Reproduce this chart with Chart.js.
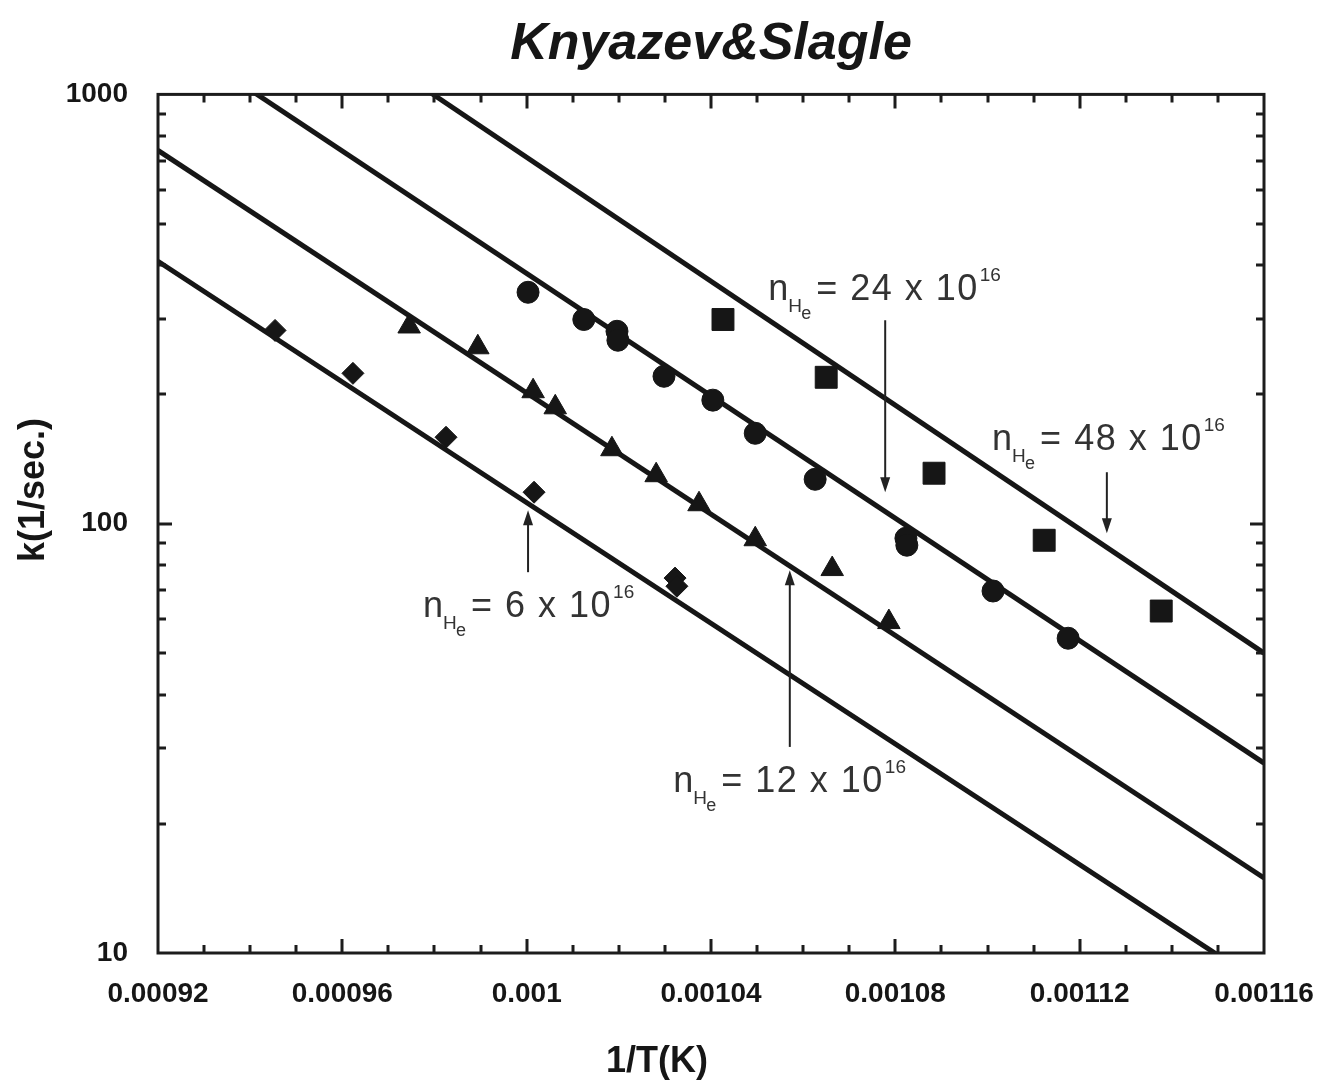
<!DOCTYPE html>
<html>
<head>
<meta charset="utf-8">
<script src="https://cdn.jsdelivr.net/npm/chart.js@4.4.1/dist/chart.umd.min.js"></script>
<style>
  html, body { margin: 0; padding: 0; background: #fff; }
  canvas { display: block; }
</style>
</head>
<body>
<canvas id="c" width="1323" height="1084"></canvas>
<script>
// Axis ticks: x is 1/T (1/K), y is k (1/s) on a log scale
const xTicks = [0.00092, 0.00096, 0.001, 0.00104, 0.00108, 0.00112, 0.00116];
const xTickLabels = ['0.00092', '0.00096', '0.001', '0.00104', '0.00108', '0.00112', '0.00116'];
const yTicks = [10, 100, 1000];
const yTickLabels = ['10', '100', '1000'];

// Arrhenius fits, k at the two ends of the 1/T range
const fitX = [0.00092, 0.00116];
const fitK6 = [408.6, 8.41];
const fitK12 = [740.6, 14.95];
const fitK24 = [1423, 27.7];
const fitK48 = [2697, 49.95];

// Measured rate constants, n_He = 6 x 10^16 (diamonds)
const x6 = [0.0009454, 0.0009623, 0.0009825, 0.0010016, 0.0010322, 0.0010326];
const k6 = [282, 224, 159, 118.4, 74.7, 71.5];

// n_He = 12 x 10^16 (triangles)
const x12 = [0.0009745, 0.0009894, 0.0010014, 0.0010062, 0.0010185, 0.0010281, 0.0010374, 0.0010496, 0.0010663, 0.0010786];
const k12 = [288, 257.6, 203.5, 186.7, 149.1, 129.7, 111, 92, 78.4, 59];

// n_He = 24 x 10^16 (circles)
const x24 = [0.0010003, 0.0010124, 0.0010196, 0.0010198, 0.0010298, 0.0010404, 0.0010496, 0.0010626, 0.0010823, 0.0010825, 0.0011012, 0.0011175];
const k24 = [346, 299, 280.7, 267.5, 220.5, 194, 162.4, 126.9, 92.5, 89.1, 69.7, 54.1];

// n_He = 48 x 10^16 (squares)
const x48 = [0.0010426, 0.001065, 0.0010884, 0.0011123, 0.0011377];
const k48 = [299, 219.3, 131.1, 91.5, 62.6];

// Density callouts: text anchor (left, baseline) and arrow tail -> tip, in data units
const calloutValues = ['6', '12', '24', '48'];
const calloutTextX = [0.0009775, 0.0010318, 0.0010524, 0.001101];
const calloutTextK = [60.6, 23.7, 331.5, 148.3];
const calloutArrowX = [0.0010003, 0.0010571, 0.0010778, 0.0011259];
const calloutTailK = [77.1, 30.2, 297.8, 131.8];
const calloutTipK = [107.5, 77.9, 118.4, 95.0];

const INK = '#161616';
const FONT = '"Liberation Sans", Arial, Helvetica, sans-serif';

const pts = (xs, ks) => xs.map((x, i) => ({ x, y: ks[i] }));

function fitLine(ks) {
  return {
    type: 'scatter', data: pts(fitX, ks), showLine: true,
    borderColor: INK, borderWidth: 5, pointRadius: 0, order: 2, clip: 0
  };
}
function markers(xs, ks, style, radius) {
  return {
    type: 'scatter', data: pts(xs, ks), showLine: false,
    pointStyle: style, pointRadius: radius, pointHoverRadius: radius,
    backgroundColor: INK, borderColor: INK, borderWidth: 1, order: 1
  };
}

function drawArrow(ctx, x, yTail, yTip) {
  const dir = Math.sign(yTip - yTail);
  ctx.strokeStyle = '#222';
  ctx.fillStyle = '#222';
  ctx.lineWidth = 2;
  ctx.beginPath();
  ctx.moveTo(x, yTail);
  ctx.lineTo(x, yTip - dir * 10);
  ctx.stroke();
  ctx.beginPath();
  ctx.moveTo(x, yTip);
  ctx.lineTo(x - 5, yTip - dir * 15);
  ctx.lineTo(x + 5, yTip - dir * 15);
  ctx.closePath();
  ctx.fill();
}

function drawDensityLabel(ctx, px, py, value) {
  ctx.fillStyle = '#333';
  ctx.textAlign = 'left';
  ctx.textBaseline = 'alphabetic';
  ctx.font = '36px ' + FONT;
  ctx.fillText('n', px, py);
  ctx.font = '19px ' + FONT;
  ctx.fillText('H', px + 20, py + 12);
  ctx.font = '18px ' + FONT;
  ctx.fillText('e', px + 33, py + 19);
  ctx.font = '36px ' + FONT;
  ctx.letterSpacing = '1.5px';
  const main = '= ' + value + ' x 10';
  ctx.fillText(main, px + 48, py);
  const w = ctx.measureText(main).width;
  ctx.letterSpacing = '0px';
  ctx.font = '19px ' + FONT;
  ctx.fillText('16', px + 48 + w + 1, py - 19);
}

// Frame, inward tick marks, axis titles and density callouts
const decorations = {
  id: 'decorations',
  afterDatasetsDraw(chart) {
    const { ctx, chartArea: a, scales: { x, y } } = chart;
    ctx.save();
    ctx.strokeStyle = '#1c1c1c';
    ctx.lineCap = 'butt';

    // x ticks every 1e-5, longer at labelled values
    ctx.lineWidth = 3;
    for (let i = 1; i < 24; i++) {
      const v = 0.00092 + i * 0.00001;
      const px = Math.round(x.getPixelForValue(v));
      const len = i % 4 === 0 ? 14 : 8;
      ctx.beginPath();
      ctx.moveTo(px, a.bottom); ctx.lineTo(px, a.bottom - len);
      ctx.moveTo(px, a.top); ctx.lineTo(px, a.top + len);
      ctx.stroke();
    }
    // log minor ticks on left and right
    [10, 100].forEach(decade => {
      for (let m = 1; m <= 9; m++) {
        const v = m * decade;
        if (v === 10) continue;
        const py = Math.round(y.getPixelForValue(v));
        const len = m === 1 ? 14 : 8;
        ctx.beginPath();
        ctx.moveTo(a.left, py); ctx.lineTo(a.left + len, py);
        ctx.moveTo(a.right, py); ctx.lineTo(a.right - len, py);
        ctx.stroke();
      }
    });
    // plot frame
    ctx.lineWidth = 3;
    ctx.strokeRect(a.left, a.top, a.right - a.left, a.bottom - a.top);

    // callouts
    calloutValues.forEach((val, i) => {
      const ax = x.getPixelForValue(calloutArrowX[i]);
      drawArrow(ctx, ax, y.getPixelForValue(calloutTailK[i]), y.getPixelForValue(calloutTipK[i]));
      drawDensityLabel(ctx, x.getPixelForValue(calloutTextX[i]), y.getPixelForValue(calloutTextK[i]), val);
    });

    // axis titles
    ctx.fillStyle = INK;
    ctx.font = 'bold 36px ' + FONT;
    ctx.textAlign = 'center';
    ctx.textBaseline = 'middle';
    ctx.fillText('1/T(K)', 657, 1062);
    ctx.save();
    ctx.translate(34, 490);
    ctx.rotate(-Math.PI / 2);
    ctx.fillText('k(1/sec.)', 0, 0);
    ctx.restore();

    ctx.restore();
  }
};

new Chart(document.getElementById('c'), {
  type: 'scatter',
  data: {
    datasets: [
      markers(x6, k6, 'rectRot', 11),
      markers(x12, k12, 'triangle', 13),
      markers(x24, k24, 'circle', 11),
      markers(x48, k48, 'rect', 15.5),
      fitLine(fitK6),
      fitLine(fitK12),
      fitLine(fitK24),
      fitLine(fitK48)
    ]
  },
  options: {
    responsive: false,
    devicePixelRatio: 1,
    animation: false,
    events: [],
    layout: { padding: { left: 0, right: 59, top: 0, bottom: 0 } },
    plugins: {
      legend: { display: false },
      tooltip: { enabled: false },
      title: {
        display: true,
        fullSize: false,
        text: 'Knyazev&Slagle',
        color: INK,
        font: { family: FONT, size: 52, weight: 'bold', style: 'italic', lineHeight: 1.2 },
        padding: { top: 13, bottom: 19 }
      }
    },
    scales: {
      x: {
        type: 'linear',
        min: 0.00092,
        max: 0.00116,
        afterBuildTicks: s => { s.ticks = xTicks.map(v => ({ value: v })); },
        afterFit: s => { s.height = 131; s.paddingLeft = 0; s.paddingRight = 0; },
        grid: { display: false, drawTicks: false },
        border: { display: false },
        ticks: {
          autoSkip: false, maxRotation: 0, padding: 24, color: INK,
          font: { family: FONT, size: 28, weight: 'bold' },
          callback: (v, i) => xTickLabels[i]
        }
      },
      y: {
        type: 'logarithmic',
        min: 10,
        max: 1000,
        afterBuildTicks: s => { s.ticks = yTicks.map(v => ({ value: v })); },
        afterFit: s => { s.width = 158; s.paddingTop = 0; s.paddingBottom = 0; },
        grid: { display: false, drawTicks: false },
        border: { display: false },
        ticks: {
          autoSkip: false, padding: 30, color: INK,
          font: { family: FONT, size: 28, weight: 'bold' },
          callback: (v, i) => yTickLabels[i]
        }
      }
    }
  },
  plugins: [decorations]
});
</script>
</body>
</html>
